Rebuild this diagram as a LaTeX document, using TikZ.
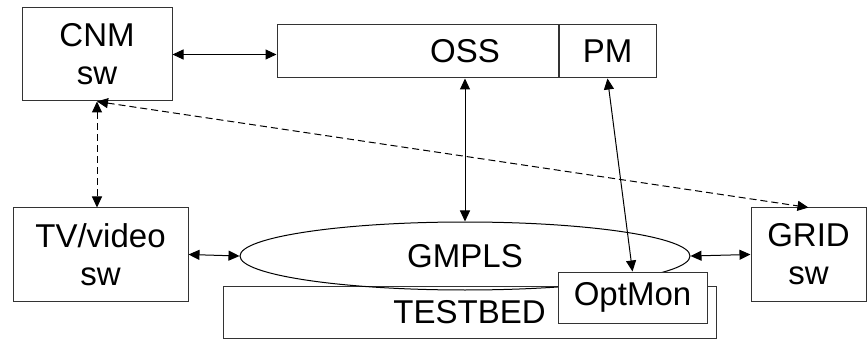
\documentclass[tikz,border=0pt]{standalone}
\usepackage{fontspec}
\setmainfont{Liberation Sans}
\usepackage{tikz}
\usetikzlibrary{positioning}
\usetikzlibrary{shapes.geometric}
\usetikzlibrary{arrows.meta}

\begin{document}
\begin{tikzpicture}[x=1pt, y=-1pt,
                          swbox/.style={rectangle, draw=black!80, line width=1pt, inner sep=0pt, align=center, font=\fontsize{33}{38}\selectfont},
                          netellipse/.style={ellipse, draw=black, line width=1pt, inner sep=0pt, font=\fontsize{33}{38}\selectfont},
                          link/.style={{Triangle[length=11pt,width=10pt]}-{Triangle[length=11pt,width=10pt]}, line width=1pt},
                          dashlink/.style={link, dash pattern=on 7pt off 4pt},
                      ]
                      \useasboundingbox (0,0) rectangle (867,339);
                      %Nodes
                      \node[swbox, minimum width=150pt, minimum height=93pt]    (cnm)     at (97,54.5)     {CNM\\sw};
                      \node[swbox, minimum width=281pt, minimum height=53pt,
                            label={[xshift=47.5pt, font=\fontsize{33}{38}\selectfont]center:OSS}] (oss) at (417.5,51.5) {};
                      \node[swbox, minimum width=97pt, minimum height=53pt]     (pm)      [right=0pt of oss] {PM};
                      \node[swbox, minimum width=175pt, minimum height=93pt]    (tv)      at (100.5,254.5) {TV/video\\sw};
                      \node[swbox, minimum width=493pt, minimum height=52pt]    (testbed) at (469.5,312)   {TESTBED};
                      \node[netellipse, minimum width=450pt, minimum height=68pt] (gmpls) at (465,256)     {GMPLS};
                      \node[swbox, fill=white, minimum width=149pt, minimum height=51pt] (optmon) at (632.5,297.5) {OptMon};
                      \node[swbox, minimum width=115pt, minimum height=93pt]    (grid)    at (808.5,254.5) {GRID\\sw};

                      %Lines
                      \draw[link] (cnm.east) -- (cnm.east -| oss.west);
                      \draw[link] (oss.south -| gmpls.north) -- (gmpls.north);
                      \draw[link] (pm.south) -- (optmon.north);
                      \draw[link] (tv.east) -- (gmpls.west);
                      \draw[link] (gmpls.east) -- (grid.west);
                      \draw[dashlink] (cnm.south) -- (cnm.south |- tv.north);
                      \draw[dashlink] (cnm.south) -- (grid.north);
                  \end{tikzpicture}
\end{document}
